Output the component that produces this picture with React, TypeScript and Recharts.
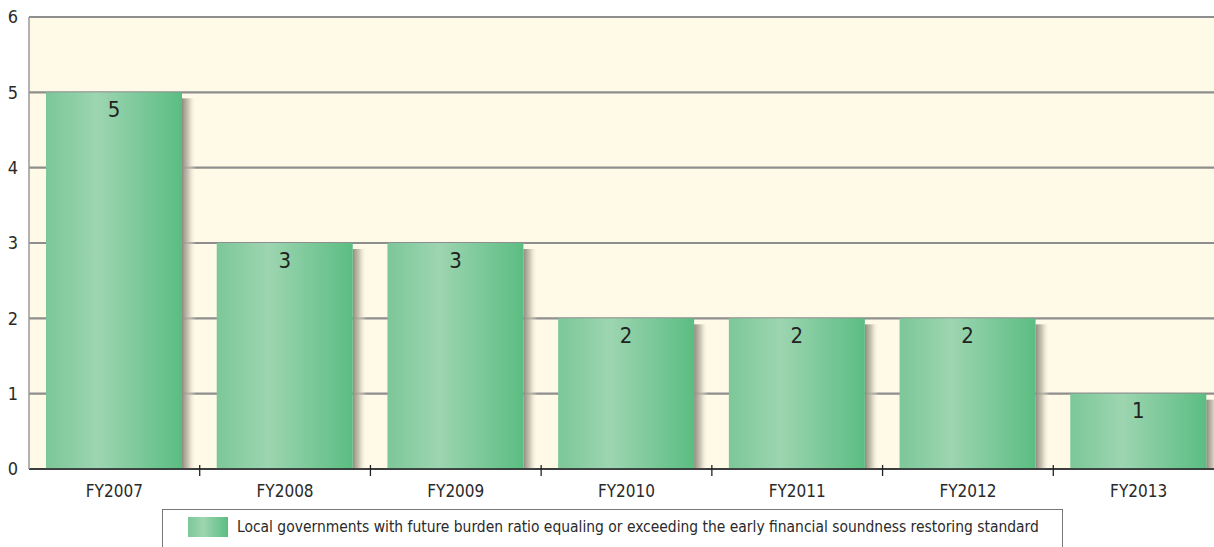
import { Bar, BarChart, CartesianGrid, LabelList, Legend, XAxis, YAxis } from 'recharts';

const years = ['FY2007', 'FY2008', 'FY2009', 'FY2010', 'FY2011', 'FY2012', 'FY2013'];
const counts = [5, 3, 3, 2, 2, 2, 1];
const yTicks = [0, 1, 2, 3, 4, 5, 6];
const seriesName =
  'Local governments with future burden ratio equaling or exceeding the early financial soundness restoring standard';

const data = years.map((year, i) => ({ year, count: counts[i] }));

const FONT = '"Liberation Sans Narrow", "DejaVu Sans Condensed", "Arial Narrow", sans-serif';

const BarShape = (props: any) => {
  const { x, y, width, height } = props;
  return (
    <g>
      <rect x={x + width} y={y + 6} width={14} height={height - 6} fill="url(#barShadow)" />
      <rect x={x} y={y} width={width} height={height} fill="url(#barFill)" />
    </g>
  );
};

const YearTick = (props: any) => {
  const { x, y, payload, index } = props;
  const half = payload?.offset ?? 0;
  return (
    <g>
      {index > 0 && <line x1={x - half} x2={x - half} y1={y - 12} y2={y - 1} stroke="#222" strokeWidth={1.3} />}
      <text x={x} y={y + 20} textAnchor="middle" fontSize={17} fill="#2a2a2a" fontFamily={FONT}>
        {payload.value}
      </text>
    </g>
  );
};

const LegendBox = () => (
  <div
    style={{
      marginLeft: 162,
      width: 901,
      height: 44,
      border: '1.5px solid #777',
      background: '#fff',
      display: 'flex',
      alignItems: 'center',
      fontFamily: FONT,
      fontSize: 15.45,
      color: '#2a2a2a',
      boxSizing: 'border-box',
      paddingBottom: 8,
      whiteSpace: 'nowrap',
    }}
  >
    <svg width={40} height={20} style={{ marginLeft: 25, marginRight: 9, flexShrink: 0 }}>
      <defs>
        <linearGradient id="legFill" x1="0" y1="0" x2="1" y2="0">
          <stop offset="0%" stopColor="#7cc798" />
          <stop offset="38%" stopColor="#9dd5b1" />
          <stop offset="100%" stopColor="#5bbd82" />
        </linearGradient>
      </defs>
      <rect x={0} y={0} width={40} height={20} fill="url(#legFill)" />
    </svg>
    <span>{seriesName}</span>
  </div>
);

export default function App() {
  return (
    <div style={{ position: 'fixed', left: 0, top: 0, width: 1214, height: 547, overflow: 'hidden', background: '#fff' }}>
      <BarChart
        width={1226}
        height={553}
        data={data}
        margin={{ top: 17, right: 2, left: 1, bottom: 0 }}
        barSize={136}
      >
        <defs>
          <linearGradient id="barFill" x1="0" y1="0" x2="1" y2="0">
            <stop offset="0%" stopColor="#7cc798" />
            <stop offset="38%" stopColor="#9dd5b1" />
            <stop offset="100%" stopColor="#5bbd82" />
          </linearGradient>
          <linearGradient id="barShadow" x1="0" y1="0" x2="1" y2="0">
            <stop offset="0%" stopColor="#8f8a7e" stopOpacity={1} />
            <stop offset="45%" stopColor="#bdb8a8" stopOpacity={0.8} />
            <stop offset="100%" stopColor="#fffae6" stopOpacity={0} />
          </linearGradient>
        </defs>
        <CartesianGrid vertical={false} fill="#fefae7" stroke="#8e8e8e" strokeWidth={2.2} />
        <XAxis
          dataKey="year"
          axisLine={{ stroke: '#222', strokeWidth: 1.5 }}
          tickLine={false}
          tick={<YearTick />}
          height={40}
          interval={0}
        />
        <YAxis
          domain={[0, 6]}
          ticks={yTicks}
          width={28}
          axisLine={{ stroke: '#999', strokeWidth: 1.5 }}
          tickLine={false}
          tick={{ fontSize: 18, fill: '#2a2a2a', fontFamily: FONT, dx: -3 }}
          interval={0}
        />
        <Legend verticalAlign="bottom" align="left" content={() => <LegendBox />} wrapperStyle={{ left: 0 }} />
        <Bar dataKey="count" name={seriesName} shape={<BarShape />} isAnimationActive={false}>
          <LabelList
            dataKey="count"
            position="insideTop"
            offset={9}
            style={{ fontSize: 22, fill: '#222', fontFamily: FONT }}
          />
        </Bar>
      </BarChart>
    </div>
  );
}
